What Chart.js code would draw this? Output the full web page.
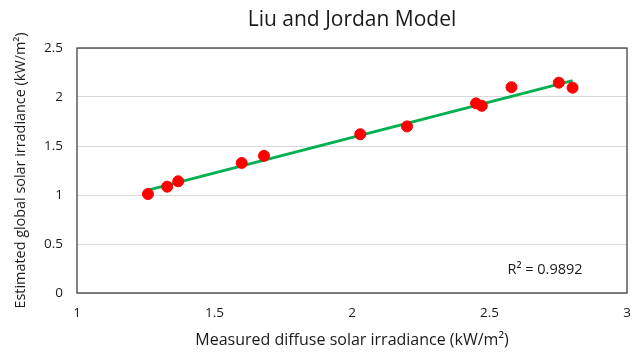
<!DOCTYPE html>
<html>
<head>
<meta charset="utf-8">
<script src="https://cdn.jsdelivr.net/npm/chart.js@4"></script>
<style>
  html, body { margin: 0; padding: 0; background: #fff; }
  #wrap { width: 638px; height: 352px; }
</style>
</head>
<body>
<div id="wrap"><canvas id="chart" width="638" height="352"></canvas></div>
<script>
// measured diffuse (x) vs estimated global (y), kW/m2
const measured = [1.258, 1.328, 1.368, 1.599, 1.68, 2.03, 2.20, 2.451, 2.472, 2.58, 2.752, 2.802];
const estimated = [1.01, 1.085, 1.14, 1.327, 1.40, 1.62, 1.70, 1.935, 1.91, 2.10, 2.146, 2.095];
// linear trendline ends as drawn
const trendX = [1.258, 2.802];
const trendY = [1.05, 2.167];
const chartTitle = 'Liu and Jordan Model';
const rSquared = 'R² = 0.9892';

const FONT = '"Open Sans", sans-serif';

// plot frame, title centred over the plot, R² label
const frame = {
    id: 'frame',
    afterDraw(chart) {
        const { ctx, chartArea: a } = chart;
        ctx.save();
        ctx.strokeStyle = '#404040';
        ctx.lineWidth = 1.3;
        ctx.strokeRect(a.left, a.top, a.right - a.left, a.bottom - a.top);
        ctx.fillStyle = '#1a1a1a';
        ctx.textAlign = 'center';
        ctx.textBaseline = 'middle';
        ctx.font = '21px ' + FONT;
        ctx.fillText(chartTitle, (a.left + a.right) / 2, 20);
        ctx.font = '14.5px ' + FONT;
        ctx.fillText(rSquared, a.right - 82, a.bottom - 23);
        ctx.restore();
    }
};

const tickFmt = v => String(v);

new Chart(document.getElementById('chart'), {
    type: 'scatter',
    data: {
        datasets: [
            {
                type: 'line',
                data: trendX.map((x, i) => ({ x, y: trendY[i] })),
                borderColor: '#00b050',
                borderWidth: 3,
                pointRadius: 0,
                fill: false,
                order: 2
            },
            {
                data: measured.map((x, i) => ({ x, y: estimated[i] })),
                backgroundColor: '#ff0000',
                borderColor: '#ff0000',
                pointRadius: 5.5,
                order: 1
            }
        ]
    },
    options: {
        responsive: false,
        animation: false,
        layout: { padding: { top: 48, left: 0, right: 0, bottom: 0 } },
        plugins: {
            legend: { display: false },
            tooltip: { enabled: false },
            title: { display: false }
        },
        scales: {
            x: {
                type: 'linear',
                min: 1, max: 3,
                afterFit: s => { s.height = 59; s.paddingLeft = 0; s.paddingRight = 11; },
                grid: { display: false, drawTicks: false },
                border: { display: false },
                ticks: { stepSize: 0.5, padding: 12, color: '#1a1a1a', callback: tickFmt, font: { family: FONT, size: 13.5 } },
                title: {
                    display: true,
                    text: 'Measured diffuse solar irradiance (kW/m²)',
                    color: '#1a1a1a',
                    font: { family: FONT, size: 16 },
                    padding: { top: 0, bottom: 2 }
                }
            },
            y: {
                min: 0, max: 2.5,
                afterFit: s => { s.width = 77; s.paddingTop = 0; },
                grid: { color: '#d9d9d9', drawTicks: false },
                border: { display: false },
                ticks: { stepSize: 0.5, padding: 14, color: '#1a1a1a', callback: tickFmt, font: { family: FONT, size: 13.5 } },
                title: {
                    display: true,
                    text: 'Estimated global solar irradiance (kW/m²)',
                    color: '#1a1a1a',
                    font: { family: FONT, size: 14.4 },
                    padding: { top: 12, bottom: 0 }
                }
            }
        }
    },
    plugins: [frame]
});
</script>
</body>
</html>
